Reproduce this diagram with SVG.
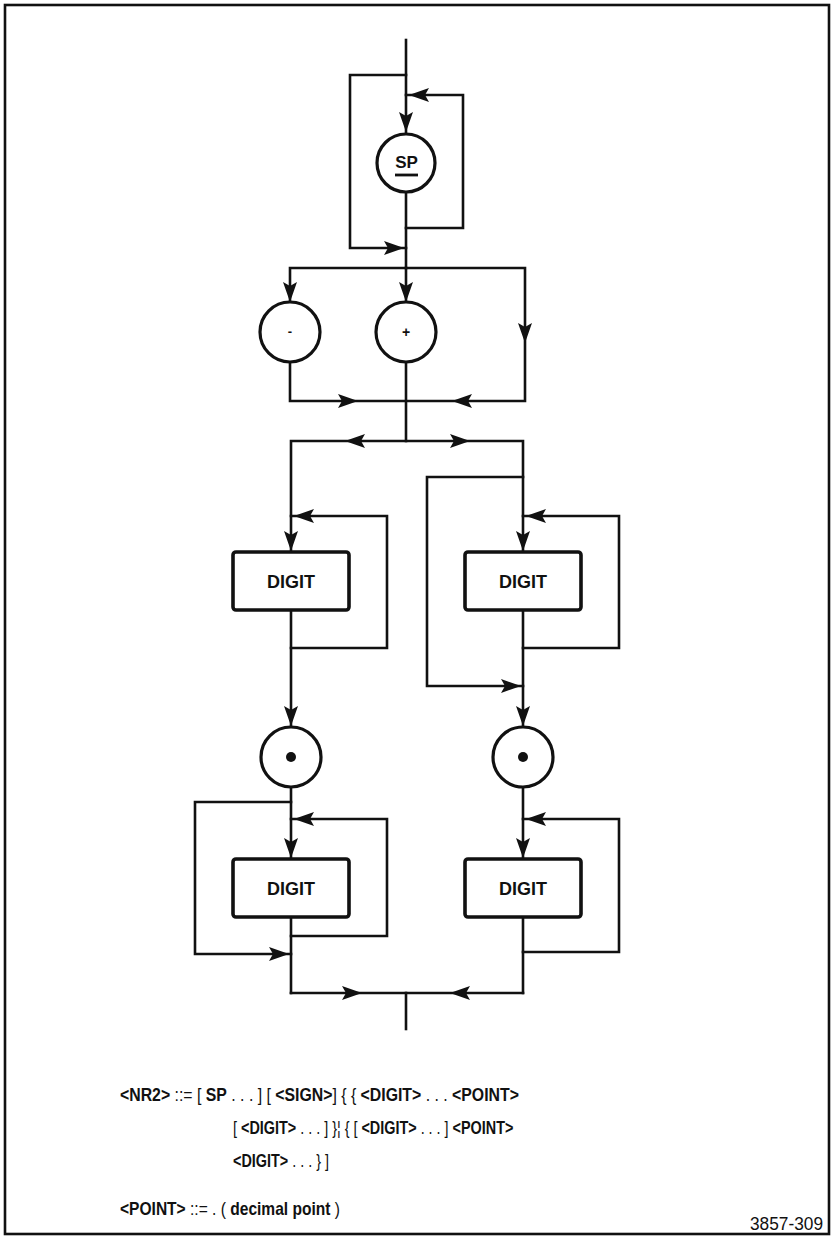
<svg xmlns="http://www.w3.org/2000/svg" xmlns:xlink="http://www.w3.org/1999/xlink" width="833" height="1237" viewBox="0 0 833 1237">
<style>
.ln{fill:none;stroke:#111;stroke-width:2.6;stroke-linejoin:miter;stroke-linecap:square}
.circ{fill:#fff;stroke:#111;stroke-width:3.2}
.box{fill:#fff;stroke:#111;stroke-width:3.6}
.lbl{font-family:"Liberation Sans",Arial,sans-serif;font-weight:bold;fill:#111;text-anchor:middle}
.frm{font-family:"Liberation Sans",Arial,sans-serif;font-size:18px;fill:#111}
.b{font-weight:bold}
</style>
<defs>
<path id="ah" d="M0,0 L-20,-7 L-16,0 L-20,7 Z" fill="#111"/>
</defs>
<rect x="5" y="5" width="824" height="1229" fill="none" stroke="#111" stroke-width="2.6"/>
<g id="connectors">
<path class="ln" d="M406,40 V268"/>
<path class="ln" d="M406,75 H350 V248 H406"/>
<path class="ln" d="M406,228 H463 V95 H406"/>
<path class="ln" d="M290,401 V268 H525 V401 Z"/>
<path class="ln" d="M406,268 V441"/>
<path class="ln" d="M291,552 V441 H523 V552"/>
<path class="ln" d="M523,477 H427 V686 H523"/>
<path class="ln" d="M291,648 H387 V516 H291"/>
<path class="ln" d="M523,648 H619 V516 H523"/>
<path class="ln" d="M291,610 V993"/>
<path class="ln" d="M523,610 V993"/>
<path class="ln" d="M291,802 H195 V954 H291"/>
<path class="ln" d="M291,936 H387 V819 H291"/>
<path class="ln" d="M523,952 H619 V819 H523"/>
<path class="ln" d="M291,993 H523"/>
<path class="ln" d="M406,993 V1029"/>
<use xlink:href="#ah" transform="translate(406,132) rotate(90)"/>
<use xlink:href="#ah" transform="translate(409,95) rotate(180)"/>
<use xlink:href="#ah" transform="translate(404,248)"/>
<use xlink:href="#ah" transform="translate(290,302) rotate(90)"/>
<use xlink:href="#ah" transform="translate(406,302) rotate(90)"/>
<use xlink:href="#ah" transform="translate(525,343) rotate(90)"/>
<use xlink:href="#ah" transform="translate(358,401)"/>
<use xlink:href="#ah" transform="translate(452,401) rotate(180)"/>
<use xlink:href="#ah" transform="translate(345,441) rotate(180)"/>
<use xlink:href="#ah" transform="translate(470,441)"/>
<use xlink:href="#ah" transform="translate(294,516) rotate(180)"/>
<use xlink:href="#ah" transform="translate(291,551) rotate(90)"/>
<use xlink:href="#ah" transform="translate(526,516) rotate(180)"/>
<use xlink:href="#ah" transform="translate(523,551) rotate(90)"/>
<use xlink:href="#ah" transform="translate(521,686)"/>
<use xlink:href="#ah" transform="translate(291,726) rotate(90)"/>
<use xlink:href="#ah" transform="translate(523,726) rotate(90)"/>
<use xlink:href="#ah" transform="translate(294,819) rotate(180)"/>
<use xlink:href="#ah" transform="translate(291,858) rotate(90)"/>
<use xlink:href="#ah" transform="translate(526,819) rotate(180)"/>
<use xlink:href="#ah" transform="translate(523,858) rotate(90)"/>
<use xlink:href="#ah" transform="translate(289,954)"/>
<use xlink:href="#ah" transform="translate(362,993)"/>
<use xlink:href="#ah" transform="translate(450,993) rotate(180)"/>
</g>
<g id="sp">
<circle class="circ" cx="406" cy="163" r="29"/>
<text class="lbl" x="406.5" y="168" font-size="17">SP</text>
<line x1="395" y1="175" x2="418" y2="175" stroke="#111" stroke-width="2.8"/>
</g>
<g id="minus">
<circle class="circ" cx="290" cy="332" r="30"/>
<text class="lbl" x="290" y="336" font-size="13">-</text>
</g>
<g id="plus">
<circle class="circ" cx="406" cy="332" r="30"/>
<text class="lbl" x="406" y="337" font-size="14" font-weight="normal">+</text>
</g>
<g id="digit1">
<rect class="box" x="233" y="552" width="116" height="58" rx="3"/>
<text class="lbl" x="291" y="588" font-size="18">DIGIT</text>
</g>
<g id="digit2">
<rect class="box" x="465" y="552" width="116" height="58" rx="3"/>
<text class="lbl" x="523" y="588" font-size="18">DIGIT</text>
</g>
<g id="point1">
<circle class="circ" cx="291" cy="757" r="30"/>
<circle cx="291" cy="757" r="5" fill="#111"/>
</g>
<g id="point2">
<circle class="circ" cx="523" cy="757" r="30"/>
<circle cx="523" cy="757" r="5" fill="#111"/>
</g>
<g id="digit3">
<rect class="box" x="233" y="859" width="116" height="58" rx="3"/>
<text class="lbl" x="291" y="895" font-size="18">DIGIT</text>
</g>
<g id="digit4">
<rect class="box" x="465" y="859" width="116" height="58" rx="3"/>
<text class="lbl" x="523" y="895" font-size="18">DIGIT</text>
</g>
<g id="formula">
<text class="frm" transform="matrix(0.88 0 0 1 120 1101)"><tspan class="b">&lt;NR2&gt;</tspan> ::= [ <tspan class="b">SP</tspan> . . . ] [ <tspan class="b">&lt;SIGN&gt;</tspan>] { { <tspan class="b">&lt;DIGIT&gt;</tspan> . . . <tspan class="b">&lt;POINT&gt;</tspan></text>
<text class="frm" transform="matrix(0.8 0 0 1 233 1134)">[ <tspan class="b">&lt;DIGIT&gt;</tspan> . . . ] }¦ { [ <tspan class="b">&lt;DIGIT&gt;</tspan> . . . ] <tspan class="b">&lt;POINT&gt;</tspan></text>
<text class="frm" transform="matrix(0.8 0 0 1 233 1167)"><tspan class="b">&lt;DIGIT&gt;</tspan> . . . } ]</text>
<text class="frm" transform="matrix(0.865 0 0 1 120 1215)"><tspan class="b">&lt;POINT&gt;</tspan> ::= . ( <tspan class="b">decimal point</tspan> )</text>
<text class="frm" x="823" y="1230" text-anchor="end" font-size="16.5" textLength="73" lengthAdjust="spacingAndGlyphs">3857-309</text>
</g>
</svg>
